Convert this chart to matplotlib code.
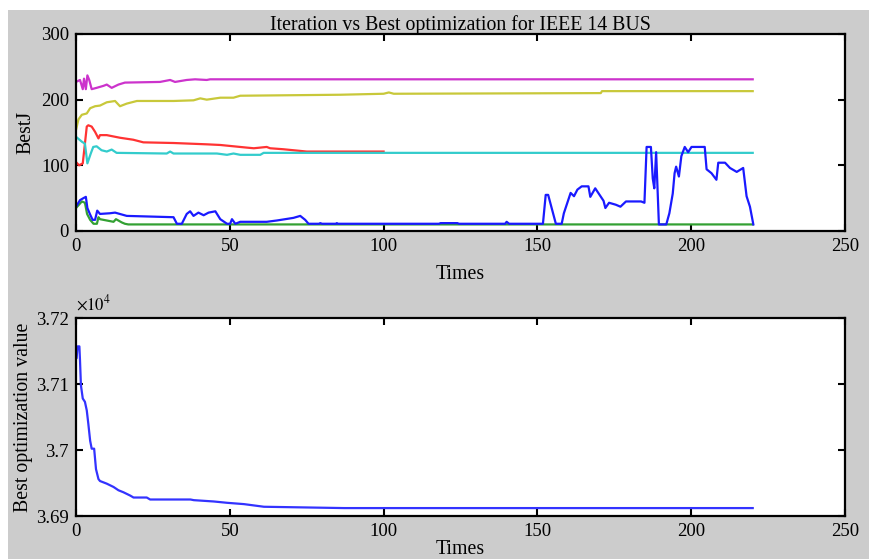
import matplotlib.pyplot as plt
from matplotlib.patches import Rectangle
from matplotlib.ticker import FuncFormatter

# BestJ traces (breakpoints)
mag_x = [0, 1.3, 2.2, 2.6, 3.2, 3.7, 4.3, 5.1, 6.7, 8.9, 10, 11.6, 13.8, 15.9, 27.3, 30.6, 32.2, 36, 38.7, 42.5, 43.6, 220]
mag_y = [227, 230, 216, 232, 216, 237, 230, 216, 218, 221, 223, 218, 223, 226, 227, 230, 227, 230, 231, 230, 231, 231]

yel_x = [0, 0.8, 1.9, 3.5, 4.6, 6.2, 7.8, 10, 12.7, 14.3, 16.5, 19.8, 31.7, 38.2, 40.4, 42.5, 46.9, 51.2, 53.4, 85.9, 100, 101.7, 103.3, 170.6, 171, 220]
yel_y = [154, 170, 177, 179, 187, 190, 191, 196, 198, 190, 194, 198, 198, 199, 202, 200, 203, 203, 206, 207.5, 209, 211, 209, 210, 213, 213]

red_x = [0, 1, 2.2, 2.9, 3.5, 4, 5.1, 6.2, 7.3, 7.8, 10, 14.3, 18.6, 21.9, 31.7, 42.5, 46.9, 51.2, 55.5, 57.8, 62, 63.1, 67.4, 75, 100]
red_y = [105, 100, 103, 133, 159, 161, 159, 151, 141, 146, 146, 142, 139, 135, 134, 132, 131, 129, 127, 126, 128, 126, 124.5, 121, 121]

cya_x = [0, 1.9, 2.9, 3.7, 4.8, 5.6, 6.7, 8.3, 10, 11.6, 13.2, 29.5, 30.6, 31.7, 45.8, 49.1, 51.2, 53.4, 59.9, 61, 220]
cya_y = [143.5, 136, 133, 103, 118, 128, 129, 123, 121, 124, 119, 118, 121, 118, 118, 116, 118, 116, 116, 119, 119]

blu_x = [0, 1.3, 2.4, 3.2, 3.7, 4.6, 5.4, 6.2, 6.9, 7.8, 11, 12.7, 16.5, 31.7, 32.8, 34.4, 36, 37.1, 38.2, 39.8,
         41.5, 43.1, 45.3, 46.9, 49.1, 50.1, 50.7, 51.8, 53.4, 62, 65.3, 70.7, 72.9, 74.5, 75.6, 79, 79.4, 80,
         84.5, 84.8, 85.2, 118, 118.5, 124, 124.5, 139.5, 140, 140.8, 151.8, 152.7, 153.5, 156, 157.9, 158.6,
         160.8, 161.9, 163, 164.4, 166.6, 167.2, 168.8, 171.5, 172.1, 173.3, 175.5, 177, 178.8, 183.7, 184.8,
         185.5, 186.9, 187.5, 188.0, 188.6, 189.5, 191.9, 192.9, 194.0, 194.6, 195.1, 196.0, 196.8, 197.9,
         199.0, 200.1, 204.4, 205.0, 206.6, 208.2, 208.8, 211.0, 212.6, 214.8, 216.9, 218.0, 219.1, 220.2]
blu_y = [37, 47, 50, 52, 35, 25, 17, 17, 31, 26, 27, 28, 23, 21, 11, 11, 26, 30, 23, 28,
         24, 28, 30, 18, 11, 11, 18, 11, 14, 14, 16, 20, 23, 17, 11, 11, 12, 11,
         11, 12, 11, 11, 12, 12, 11, 11, 14, 11, 11, 55, 55, 11, 11, 27,
         58, 53, 63, 68, 68, 52, 65, 46, 35, 43, 40, 37, 45, 45, 43,
         128, 128, 80, 65, 120, 10, 10, 27, 57, 88, 98, 83, 114, 128,
         120, 128, 128, 94, 88, 78, 104, 104, 96, 90, 96, 53, 37, 10]

grn_x = [0, 1.9, 2.9, 3.6, 4.6, 5.7, 6.8, 7.3, 7.8, 10, 12.2, 13, 14.9, 15.9, 17, 220]
grn_y = [35, 45, 43, 26, 17, 11, 11, 21, 18, 16, 14, 18, 13, 11, 10, 10]

# best optimization value
best_x = [0, 0.2, 0.5, 1.1, 1.3, 1.6, 2.2, 2.9, 3.5, 4, 4.6, 5.1, 5.9, 6.5, 7.3, 7.8, 10, 12.2, 13.8, 15.4,
          17.6, 18.7, 23, 24.1, 37.2, 38.3, 44.8, 49.1, 54.6, 61.1, 87.2, 220]
best_y = [37139, 37139, 37157, 37157, 37136, 37098, 37078, 37073, 37060, 37040, 37014, 37002, 37002, 36971,
          36956, 36953, 36949, 36944, 36939, 36936, 36931, 36928, 36928, 36925, 36925, 36924, 36922, 36920,
          36918, 36914, 36912, 36912]

plt.rcParams['font.family'] = ['Liberation Serif', 'DejaVu Serif']
plt.rcParams['mathtext.fontset'] = 'stix'
plt.rcParams['font.size'] = 14.3

W, H = 869, 559
fig = plt.figure(figsize=(W / 100, H / 100), dpi=100)
fig.patch.set_facecolor('white')
fig.patches.append(Rectangle((8 / W, 0), 1, 1 - 10 / H, transform=fig.transFigure,
                             facecolor='#cccccc', edgecolor='none', zorder=-10))


def px_axes(x0, y0, x1, y1):
    return fig.add_axes([x0 / W, 1 - y1 / H, (x1 - x0) / W, (y1 - y0) / H])


def style(ax):
    ax.set_facecolor('white')
    for s in ax.spines.values():
        s.set_linewidth(1.6)
    ax.tick_params(direction='in', length=5, width=1.5, top=True, right=True, pad=5,
                   labelsize=13.5)


ax1 = px_axes(76, 34, 845, 231)
style(ax1)
lw = 1.6
ax1.plot(mag_x, mag_y, color='#cc33cc', lw=lw)
ax1.plot(yel_x, yel_y, color='#c8c83a', lw=lw)
ax1.plot(red_x, red_y, color='#ff3333', lw=lw)
ax1.plot(cya_x, cya_y, color='#33cccc', lw=lw)
ax1.plot(grn_x, grn_y, color='#33a033', lw=lw)
ax1.plot(blu_x, blu_y, color='#1a1aff', lw=lw)
ax1.set_xlim(0, 250)
ax1.set_ylim(0, 300)
ax1.set_xticks([0, 50, 100, 150, 200, 250])
ax1.set_yticks([0, 100, 200, 300])
ax1.set_xlabel('Times', labelpad=7)
ax1.set_ylabel('BestJ', labelpad=4)
ax1.set_title('Iteration vs Best optimization for IEEE 14 BUS', fontsize=14.3, pad=3)

ax2 = px_axes(76, 318, 845, 516)
style(ax2)
ax2.plot(best_x, best_y, color='#3333ff', lw=lw)
ax2.set_xlim(0, 250)
ax2.set_ylim(36900, 37200)
ax2.set_xticks([0, 50, 100, 150, 200, 250])
ax2.set_yticks([36900, 37000, 37100, 37200])
ax2.yaxis.set_major_formatter(FuncFormatter(lambda v, p: '%g' % round(v / 1e4, 4)))
ax2.text(0, 1.02, r'$\times10^{4}$', transform=ax2.transAxes, fontsize=12, ha='left', va='bottom')
ax2.set_xlabel('Times', labelpad=0)
ax2.set_ylabel('Best optimization value', labelpad=2)

fig.savefig('out.png', dpi=100, facecolor=fig.get_facecolor())
